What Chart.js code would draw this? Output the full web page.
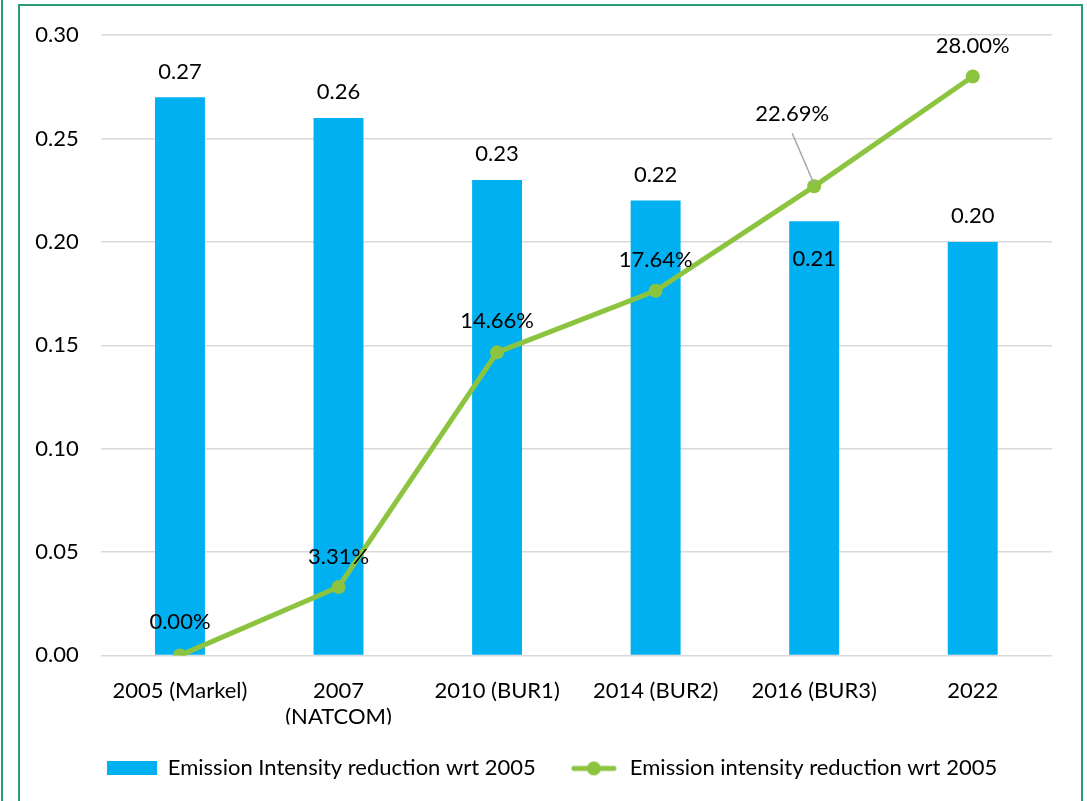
<!DOCTYPE html>
<html>
<head>
<meta charset="utf-8">
<script src="https://cdn.jsdelivr.net/npm/chart.js@4"></script>
<style>
  html, body { margin: 0; padding: 0; background: #fff; overflow: hidden; }
  #wrap { position: relative; width: 1087px; height: 801px; }
  #edge { position: absolute; left: 1px; top: 0; width: 2px; height: 801px; background: #2a9d78; }
  #frame { position: absolute; left: 18px; top: 4px; width: 1065px; height: 900px; border: 2px solid #2a9d78; box-sizing: border-box; }
  canvas { position: absolute; left: 0; top: 0; }
</style>
</head>
<body>
<div id="wrap">
  <div id="edge"></div>
  <div id="frame"></div>
  <canvas id="c" width="1087" height="801"></canvas>
</div>
<script>
// Categories and series
const categories = ['2005 (Markel)', ['2007', '(NATCOM)'], '2010 (BUR1)', '2014 (BUR2)', '2016 (BUR3)', '2022'];
const intensityValues = [0.27, 0.26, 0.23, 0.22, 0.21, 0.20];
const reductionPercent = [0.00, 3.31, 14.66, 17.64, 22.69, 28.00];
const yTicks = [0, 0.05, 0.10, 0.15, 0.20, 0.25, 0.30];
const seriesNames = ['Emission Intensity reduction wrt 2005', 'Emission intensity reduction wrt 2005'];

// Label placement (pixel offsets from each mark)
const barLabelOffsets = [-25, -26, -26, -26, 38, -26];
const lineLabelOffsets = [[0, -33], [0, -30], [0, -31], [0, -31], [-22, -72], [0, -31]];
const leaderLines = [false, false, false, false, true, false];

const BAR = '#00b0f0';
const LINE = '#8cc43f';
const FONT = 'Lato, "Open Sans", sans-serif';
const FS = 22;

// Legend swatches
function makeBarSwatch() {
  const c = document.createElement('canvas');
  c.width = 50; c.height = 14;
  const g = c.getContext('2d');
  g.fillStyle = BAR; g.fillRect(0, 0, 50, 14);
  return c;
}
function makeLineSwatch() {
  const c = document.createElement('canvas');
  c.width = 46; c.height = 16;
  const g = c.getContext('2d');
  g.strokeStyle = LINE; g.lineWidth = 5; g.lineCap = 'round';
  g.beginPath(); g.moveTo(3, 8); g.lineTo(43, 8); g.stroke();
  g.fillStyle = LINE; g.beginPath(); g.arc(23, 8, 7, 0, Math.PI * 2); g.fill();
  return c;
}
const swatches = [makeBarSwatch(), makeLineSwatch()];

// Value labels for bars and line points
const valueLabels = {
  id: 'valueLabels',
  afterDatasetsDraw(chart) {
    const ctx = chart.ctx;
    ctx.save();
    ctx.font = FS + 'px ' + FONT;
    ctx.fillStyle = '#000';
    ctx.textAlign = 'center';
    ctx.textBaseline = 'middle';
    const barMeta = chart.getDatasetMeta(0);
    barMeta.data.forEach((el, i) => {
      ctx.fillText(intensityValues[i].toFixed(2), el.x, el.y + barLabelOffsets[i]);
    });
    const lineMeta = chart.getDatasetMeta(1);
    lineMeta.data.forEach((el, i) => {
      const [dx, dy] = lineLabelOffsets[i];
      const tx = el.x + dx, ty = el.y + dy;
      if (leaderLines[i]) {
        ctx.strokeStyle = '#a6a6a6';
        ctx.lineWidth = 1.5;
        ctx.beginPath();
        ctx.moveTo(tx, ty + 19);
        ctx.lineTo(el.x, el.y - 2);
        ctx.stroke();
      }
      ctx.fillText(reductionPercent[i].toFixed(2) + '%', tx, ty);
    });
    ctx.restore();
  }
};

// Nudge the legend row so it sits centred under the frame
const legendShift = {
  id: 'legendShift',
  afterLayout(chart) {
    if (chart.legend) chart.legend.left += 22;
  }
};

new Chart(document.getElementById('c'), {
  data: {
    labels: categories,
    datasets: [
      {
        type: 'bar',
        label: seriesNames[0],
        data: intensityValues,
        backgroundColor: BAR,
        barPercentage: 0.315,
        categoryPercentage: 1,
        order: 1
      },
      {
        type: 'line',
        label: seriesNames[1],
        data: reductionPercent.map(p => p / 100),
        borderColor: LINE,
        backgroundColor: LINE,
        borderWidth: 5,
        pointRadius: 7,
        pointHoverRadius: 7,
        pointBackgroundColor: LINE,
        pointBorderWidth: 0,
        tension: 0,
        order: 0
      }
    ]
  },
  options: {
    responsive: false,
    animation: false,
    devicePixelRatio: 1,
    layout: { padding: { left: 30, right: 35, top: 33, bottom: 11.6 } },
    scales: {
      x: {
        grid: { display: false, drawTicks: false },
        border: { display: false },
        ticks: { color: '#000', font: { family: FONT, size: FS, lineHeight: 1.2 }, padding: 22, maxRotation: 0, autoSkip: false },
        afterFit(s) { s.height = 69; }
      },
      y: {
        min: 0,
        max: 0.3,
        grid: { color: '#d9d9d9', lineWidth: 1.5, drawTicks: false },
        border: { display: false },
        afterBuildTicks(s) { s.ticks = yTicks.map(v => ({ value: v })); },
        ticks: {
          color: '#000',
          font: { family: FONT, size: FS },
          padding: 22,
          callback: v => Number(v).toFixed(2)
        },
        afterFit(s) { s.width = 70.7; }
      }
    },
    plugins: {
      tooltip: { enabled: false },
      legend: {
        position: 'bottom',
        labels: {
          color: '#000',
          font: { family: FONT, size: FS },
          usePointStyle: true,
          pointStyleWidth: 50,
          padding: 33,
          sort: (a, b) => a.datasetIndex - b.datasetIndex,
          generateLabels(chart) {
            return chart.data.datasets.map((ds, i) => ({
              text: ds.label,
              pointStyle: swatches[i],
              fillStyle: i === 0 ? BAR : LINE,
              strokeStyle: 'transparent',
              lineWidth: 0,
              hidden: false,
              datasetIndex: i
            }));
          }
        }
      }
    }
  },
  plugins: [valueLabels, legendShift]
});
</script>
</body>
</html>
